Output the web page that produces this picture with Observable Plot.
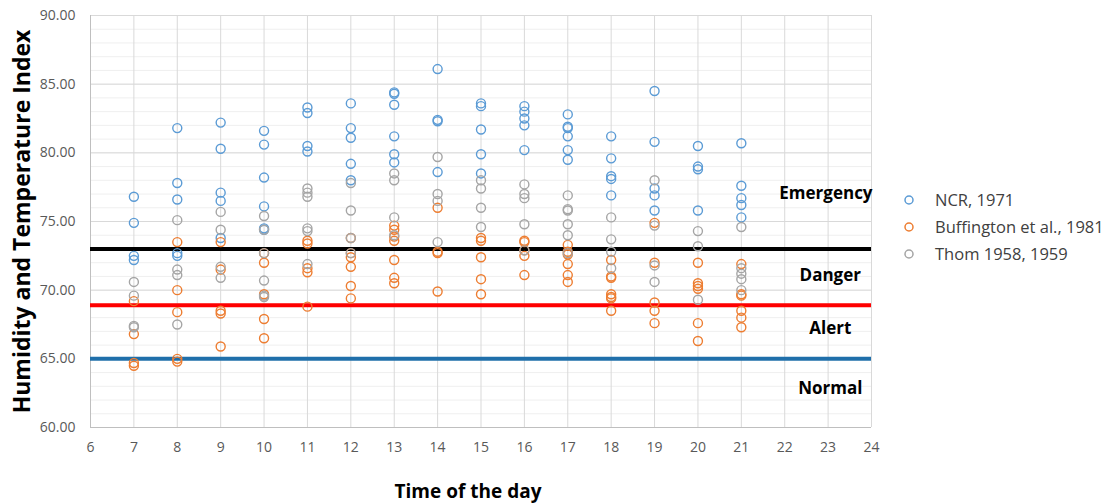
<!DOCTYPE html>
<html><head><meta charset="utf-8">
<script src="https://cdn.jsdelivr.net/npm/d3@7"></script>
<script src="https://cdn.jsdelivr.net/npm/@observablehq/plot@0.6"></script>
<style>
body{margin:0;background:#fff;font-family:"Open Sans",sans-serif}
#wrap{position:relative;width:1111px;height:504px}
#legend{position:absolute;left:902px;top:186px;font-size:16.5px;color:#404040;font-family:"Open Sans",sans-serif}
.item{display:flex;align-items:center;height:27px;white-space:nowrap}
.item svg{margin-right:19px}
</style></head><body><div id="wrap"></div><script>
const hours = [7, 8, 9, 10, 11, 12, 13, 14, 15, 16, 17, 18, 19, 20, 21];
const seriesNames = ["NCR, 1971", "Buffington et al., 1981", "Thom 1958, 1959"];
const seriesColors = ["#5B9BD5", "#ED7D31", "#A5A5A5"];

const ncr = [
  [76.8, 74.9, 72.5, 72.2],
  [81.8, 77.8, 76.6, 72.7, 72.5],
  [82.2, 80.3, 77.1, 76.5, 73.8],
  [81.6, 80.6, 78.2, 76.1, 74.5, 74.4],
  [83.3, 82.9, 80.5, 80.1],
  [83.6, 81.8, 81.1, 79.2, 78.0],
  [84.4, 84.3, 83.5, 81.2, 79.9, 79.3],
  [86.1, 82.4, 82.3, 78.6],
  [83.6, 83.4, 81.7, 79.9, 78.5],
  [83.4, 83.0, 82.5, 82.0, 80.2],
  [82.8, 81.9, 81.8, 81.2, 80.2, 79.5],
  [81.2, 79.6, 78.3, 78.1, 76.9],
  [84.5, 80.8, 77.4, 76.9, 75.8],
  [80.5, 79.0, 78.8, 75.8],
  [80.7, 77.6, 76.7, 76.2, 75.3]
];
const buffington = [
  [69.2, 66.8, 64.7, 64.5],
  [73.5, 70.0, 68.4, 65.0, 64.8],
  [73.5, 71.5, 68.5, 68.3, 65.9],
  [72.7, 72.0, 69.7, 67.9, 66.5],
  [73.6, 73.4, 71.6, 71.3, 68.8],
  [73.8, 72.7, 72.4, 71.7, 70.3, 69.4],
  [74.7, 74.4, 73.9, 73.6, 72.2, 70.9, 70.5],
  [76.0, 72.8, 72.7, 69.9],
  [73.8, 73.6, 72.4, 70.8, 69.7],
  [73.6, 73.5, 72.9, 72.5, 71.1],
  [73.3, 72.8, 72.6, 71.9, 71.1, 70.6],
  [72.2, 71.0, 70.9, 69.7, 69.5, 69.4, 68.5],
  [74.9, 72.0, 69.1, 68.5, 67.6],
  [72.0, 70.5, 70.3, 70.1, 67.6, 66.3],
  [71.9, 69.7, 69.6, 68.5, 68.0, 67.3]
];
const thom = [
  [70.6, 69.6, 67.4, 67.3],
  [75.1, 71.5, 71.1, 67.5],
  [75.7, 74.4, 71.7, 70.9],
  [75.4, 74.4, 72.7, 70.7, 69.6, 69.5],
  [77.4, 77.1, 76.8, 74.5, 74.3, 71.9],
  [77.8, 75.8, 73.8, 72.7],
  [78.5, 78.0, 75.3, 74.0],
  [79.7, 77.0, 76.5, 73.5],
  [78.0, 77.4, 76.0, 74.6],
  [77.7, 77.0, 76.7, 74.8, 72.9],
  [76.9, 75.9, 75.8, 74.8, 74.0, 72.7],
  [75.3, 73.7, 72.8, 71.6],
  [78.0, 74.7, 71.8, 70.6],
  [74.3, 73.2, 69.3],
  [74.6, 71.6, 71.2, 70.8, 70.0]
];

const thresholds = [73, 68.9, 65];
const thresholdColors = ["#000000", "#FF0000", "#1F6FAA"];
const zoneNames = ["Emergency", "Danger", "Alert", "Normal"];
const zoneY = [77.0, 71.1, 67.2, 62.85];
const zoneX = [22.95, 23.05, 23.05, 23.05];

const xTicks = [6, 7, 8, 9, 10, 11, 12, 13, 14, 15, 16, 17, 18, 19, 20, 21, 22, 23, 24];
const yTicks = [60, 65, 70, 75, 80, 85, 90];
const yMinorTicks = d3.range(60, 91, 1);

const xTitle = "Time of the day";
const yTitle = "Humidity and Temperature Index";

const rows = [];
[ncr, buffington, thom].forEach((s, k) => {
  hours.forEach((h, i) => s[i].forEach(v => rows.push({hour: h, value: v, series: seriesNames[k]})));
});

const chart = Plot.plot({
  width: 1111, height: 504,
  marginLeft: 90, marginRight: 240, marginTop: 15, marginBottom: 77,
  style: {fontFamily: "'Open Sans', sans-serif", background: "#fff", overflow: "visible"},
  x: {domain: [6, 24]},
  y: {domain: [60, 90]},
  color: {domain: seriesNames, range: seriesColors},
  marks: [
    Plot.gridY(yMinorTicks, {stroke: "#efefef", strokeOpacity: 1}),
    Plot.gridY(yTicks, {stroke: "#d9d9d9", strokeOpacity: 1}),
    Plot.gridX(xTicks, {stroke: "#d9d9d9", strokeOpacity: 1}),
    Plot.ruleX([6], {stroke: "#bfbfbf"}),
    Plot.ruleY([60], {stroke: "#bfbfbf"}),
    ...thresholds.map((t, i) => Plot.ruleY([t], {stroke: thresholdColors[i], strokeWidth: 4})),
    Plot.dot(rows, {x: "hour", y: "value", stroke: "series", r: 4.5, strokeWidth: 1.4, fill: "none"}),
    Plot.text(zoneNames, {x: (d, i) => zoneX[i], y: (d, i) => zoneY[i], text: d => d, fontWeight: "bold", fontSize: 17, fill: "#000"}),
    Plot.axisY({ticks: yTicks, tickFormat: d => d.toFixed(2), tickSize: 0, tickPadding: 15, fontSize: 14, fill: "#595959", label: null}),
    Plot.axisX({ticks: xTicks, tickSize: 0, tickPadding: 15, fontSize: 14, fill: "#595959", label: null}),
    Plot.text([yTitle], {frameAnchor: "left", dx: -68, rotate: -90, textAnchor: "middle", text: d => d, fontWeight: "bold", fontSize: 23, fill: "#000"}),
    Plot.text([xTitle], {frameAnchor: "bottom", dy: 70, dx: -13, text: d => d, fontWeight: "bold", fontSize: 19, fill: "#000"})
  ]
});
const wrap = document.getElementById("wrap");
wrap.appendChild(chart);

const legend = document.createElement("div");
legend.id = "legend";
seriesNames.forEach((n, i) => {
  const it = document.createElement("div");
  it.className = "item";
  it.innerHTML = `<svg width="14" height="14"><circle cx="7" cy="7" r="4" fill="none" stroke="${seriesColors[i]}" stroke-width="1.5"/></svg><span>${n}</span>`;
  legend.appendChild(it);
});
wrap.appendChild(legend);
</script></body></html>
